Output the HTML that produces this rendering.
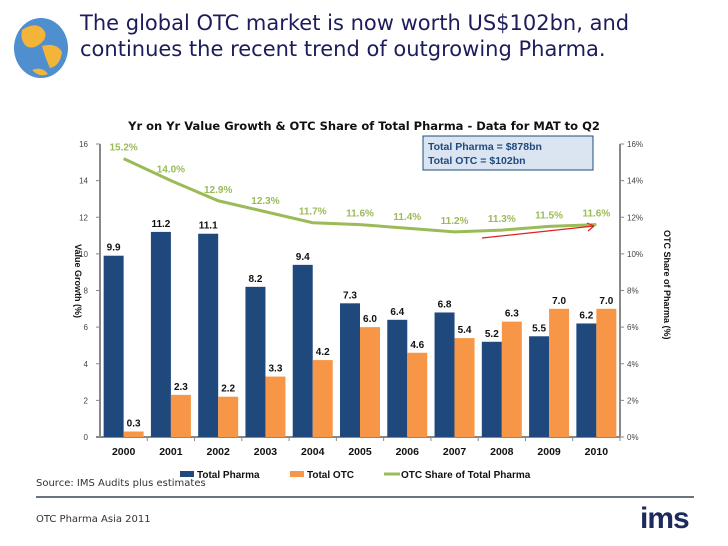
<!DOCTYPE html>
<html><head><meta charset="utf-8"><style>
body{margin:0;width:728px;height:546px;background:#fff;overflow:hidden;font-family:"Liberation Sans","DejaVu Sans",sans-serif;position:relative}
.abs{position:absolute}
</style></head><body>
<svg class="abs" style="left:12px;top:16px" width="58" height="64" viewBox="0 0 58 64">
<ellipse cx="29" cy="32" rx="27" ry="30" fill="#4f8fcf"/>
<path d="M10 14 Q22 6 30 12 Q38 20 28 28 Q20 34 14 30 Q8 24 10 14Z" fill="#f2b53a"/>
<path d="M30 30 Q44 26 50 36 Q48 50 38 52 Q34 44 30 30Z" fill="#f2b53a"/>
<path d="M20 54 Q30 50 36 58 Q28 62 20 54Z" fill="#f2b53a"/>
</svg>
<div class="abs" style="left:80px;top:10px;font-size:21px;line-height:26px;color:#1c1c5c;font-family:'DejaVu Sans',sans-serif">The global OTC market is now worth US$102bn, and<br>continues the recent trend of outgrowing Pharma.</div>

<svg id="chart" class="abs" style="left:0;top:0" width="728" height="500"></svg>

<div class="abs" style="left:36px;top:478px;font-size:10px;color:#333;font-family:'DejaVu Sans',sans-serif">Source: IMS Audits plus estimates</div>
<div class="abs" style="left:36px;top:496px;width:658px;height:2px;background:#6a7380"></div>
<div class="abs" style="left:36px;top:514px;font-size:10px;color:#333;font-family:'DejaVu Sans',sans-serif">OTC Pharma Asia 2011</div>
<div class="abs" style="left:640px;top:502px;font-size:30px;font-weight:bold;color:#1c2a5c;letter-spacing:-1px">ims</div>

<script>
const years=["2000","2001","2002","2003","2004","2005","2006","2007","2008","2009","2010"];
const pharma=[9.9,11.2,11.1,8.2,9.4,7.3,6.4,6.8,5.2,5.5,6.2];
const otc=[0.3,2.3,2.2,3.3,4.2,6.0,4.6,5.4,6.3,7.0,7.0];
const share=[15.2,14.0,12.9,12.3,11.7,11.6,11.4,11.2,11.3,11.5,11.6];
const leftTicks=[0,2,4,6,8,10,12,14,16];
const rightTicks=[0,2,4,6,8,10,12,14,16];
const svg=document.getElementById('chart');
const NS='http://www.w3.org/2000/svg';
const X0=100,X1=620,Y0=437,Y1=144;
const gw=(X1-X0)/years.length;
const yL=v=>Y0-(v/16)*(Y0-Y1);
const yR=v=>Y0-(v/16)*(Y0-Y1);
const xc=i=>X0+gw*(i+0.5);
function el(tag,attrs,name,text){const e=document.createElementNS(NS,tag);for(const k in attrs)e.setAttribute(k,attrs[k]);


if(text!==undefined)e.textContent=text;svg.appendChild(e);return e;}
el('text',{x:364,y:130,'text-anchor':'middle','font-size':11.5,'font-weight':'bold',fill:'#111','font-family':'DejaVu Sans,sans-serif'},'chart-title','Yr on Yr Value Growth & OTC Share of Total Pharma - Data for MAT to Q2');
el('line',{x1:X0,y1:Y1,x2:X0,y2:Y0,stroke:'#888','stroke-width':2},'left-axis');
el('line',{x1:X1,y1:Y1,x2:X1,y2:Y0,stroke:'#888','stroke-width':2},'right-axis');
el('line',{x1:X0-4,y1:Y0,x2:X1,y2:Y0,stroke:'#888','stroke-width':2},'x-axis');
leftTicks.forEach(t=>{el('line',{x1:X0-4,y1:yL(t),x2:X0,y2:yL(t),stroke:'#888'},'left-tick');
el('text',{x:X0-12,y:yL(t)+3,'text-anchor':'end','font-size':8,fill:'#444'},'left-tick-label',String(t));});
rightTicks.forEach(t=>{el('line',{x1:X1,y1:yR(t),x2:X1+4,y2:yR(t),stroke:'#888'},'right-tick');
el('text',{x:X1+7,y:yR(t)+3,'font-size':8,fill:'#444'},'right-tick-label',t+'%');});
years.forEach((y,i)=>{
el('line',{x1:X0+gw*(i+1),y1:Y0,x2:X0+gw*(i+1),y2:Y0+4,stroke:'#888'},'x-tick');
el('text',{x:xc(i),y:Y0+18,'text-anchor':'middle','font-size':10.5,'font-weight':'bold',fill:'#111'},'x-tick-label',y);
el('rect',{x:xc(i)-20,y:yL(pharma[i]),width:20,height:Y0-yL(pharma[i]),fill:'#1f497d'},'bar-pharma-'+y);
el('rect',{x:xc(i),y:yL(otc[i]),width:20,height:Y0-yL(otc[i]),fill:'#f79646'},'bar-otc-'+y);
el('text',{x:xc(i)-10,y:yL(pharma[i])-5,'text-anchor':'middle','font-size':10,'font-weight':'bold',fill:'#111'},'pharma-value-label',pharma[i].toFixed(1));
el('text',{x:xc(i)+10,y:yL(otc[i])-5,'text-anchor':'middle','font-size':10,'font-weight':'bold',fill:'#111'},'otc-value-label',otc[i].toFixed(1));
});
let d=share.map((v,i)=>(i?'L':'M')+xc(i)+' '+yR(v)).join(' ');
el('path',{d:d,fill:'none',stroke:'#9bbb59','stroke-width':3},'share-line');
share.forEach((v,i)=>el('text',{x:xc(i),y:yR(v)-8,'text-anchor':'middle','font-size':10,'font-weight':'bold',fill:'#9bbb59'},'share-label',v.toFixed(1)+'%'));
el('rect',{x:423,y:136,width:170,height:34,fill:'#dbe5f1',stroke:'#1f497d'},'totals-box');
el('text',{x:428,y:150,'font-size':10.5,'font-weight':'bold',fill:'#1f497d'},'total-pharma-note','Total Pharma = $878bn');
el('text',{x:428,y:164,'font-size':10.5,'font-weight':'bold',fill:'#1f497d'},'total-otc-note','Total OTC = $102bn');
el('line',{x1:482,y1:238,x2:594,y2:226,stroke:'#e02020','stroke-width':1.2},'trend-arrow');
el('path',{d:'M594 226 L587 223 M594 226 L588 231',stroke:'#e02020','stroke-width':1.2,fill:'none'},'trend-arrowhead');
el('text',{x:75,y:244,'font-size':9,'font-weight':'bold',fill:'#111',transform:'rotate(90 75 244)'},'left-axis-title','Value Growth (%)');
el('text',{x:664,y:230,'font-size':9,'font-weight':'bold',fill:'#111',transform:'rotate(90 664 230)'},'right-axis-title','OTC Share of Pharma (%)');
const leg=[['#1f497d','Total Pharma',180],['#f79646','Total OTC',290],['#9bbb59','OTC Share of Total Pharma',384]];
leg.forEach(([c,t,x],k)=>{
if(k<2)el('rect',{x:x,y:471,width:14,height:6,fill:c},'legend-swatch');
else el('line',{x1:x,y1:474,x2:x+16,y2:474,stroke:c,'stroke-width':3},'legend-swatch');
el('text',{x:x+17,y:478,'font-size':10,'font-weight':'bold',fill:'#111'},'legend-entry',t);});
</script>
</body></html>
